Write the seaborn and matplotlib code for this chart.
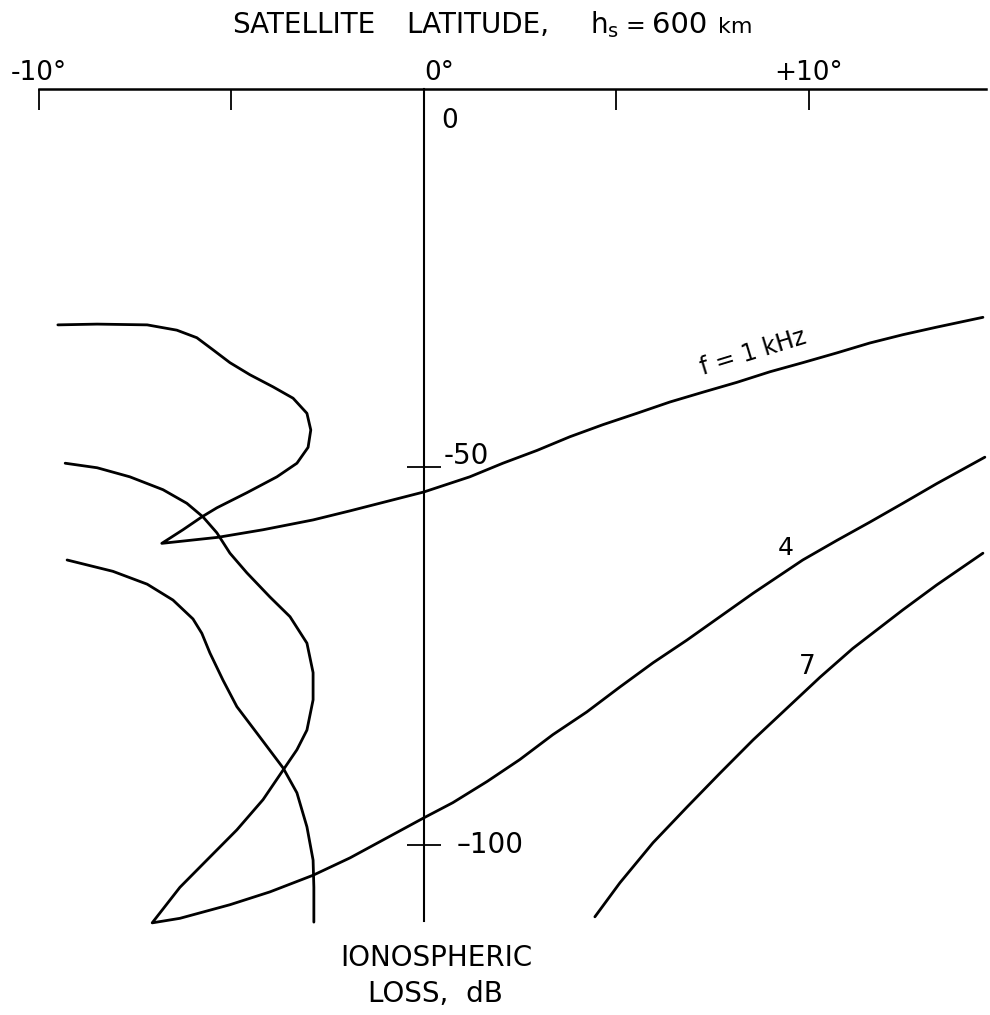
import matplotlib
matplotlib.use("Agg")
import matplotlib.pyplot as plt
import seaborn as sns
import pandas as pd

# Satellite latitude (deg) and ionospheric loss (dB) along each frequency curve
lat_1k = [-9.51, -8.49, -7.19, -6.42, -5.90, -5.48, -5.04, -4.52, -3.92, -3.40, -3.04, -2.94,
          -3.01, -3.30, -3.82, -4.60, -5.38, -5.77, -6.26, -6.81, -6.08, -5.35, -4.18, -2.88,
          -1.92, 0.0, 1.19, 2.05, 2.94, 3.79, 4.65, 5.53, 6.39, 7.25, 8.13, 8.99, 9.84,
          10.73, 11.58, 12.44, 13.32, 14.52]
loss_1k = [-31.2, -31.1, -31.2, -31.9, -32.9, -34.5, -36.2, -37.8, -39.4, -40.9, -42.9, -45.1,
           -47.4, -49.5, -51.3, -53.4, -55.4, -56.6, -58.3, -60.1, -59.7, -59.3, -58.3, -57.0,
           -55.8, -53.3, -51.3, -49.5, -47.8, -46.0, -44.4, -42.9, -41.4, -40.1, -38.8, -37.4, -36.2,
           -34.9, -33.6, -32.5, -31.5, -30.2]

lat_4k = [-9.32, -8.49, -7.64, -6.78, -6.16, -5.74, -5.38, -5.04, -4.60, -4.00, -3.48, -3.04,
          -2.88, -2.88, -3.04, -3.30, -3.66, -4.18, -4.86, -5.64, -6.34, -7.06, -6.34, -5.04,
          -4.00, -2.88, -1.92, 0.0, 0.75, 1.64, 2.49, 3.35, 4.23, 5.09, 5.95, 6.83, 7.69,
          8.55, 9.84, 10.73, 11.58, 12.44, 13.32, 14.57]
loss_4k = [-49.5, -50.1, -51.3, -53.0, -54.8, -56.6, -58.7, -61.4, -64.0, -67.2, -69.8, -73.3,
           -77.2, -80.8, -84.8, -87.4, -90.1, -94.0, -98.0, -102.0, -105.6, -110.3, -109.7, -107.9,
           -106.2, -104.0, -101.7, -96.4, -94.4, -91.6, -88.7, -85.4, -82.4, -79.1, -75.9, -72.9, -69.8,
           -66.7, -62.3, -59.7, -57.3, -54.8, -52.2, -48.7]

# the 7 kHz curve appears as two separate branches
lat_7k_west = [-9.27, -8.08, -7.19, -6.52, -6.00, -5.77, -5.56, -5.22, -4.86, -4.34, -3.66, -3.30,
               -3.04, -2.88, -2.86, -2.86]
loss_7k_west = [-62.3, -63.8, -65.5, -67.6, -70.1, -72.0, -74.6, -78.2, -81.7, -85.2, -89.8, -93.1,
                -97.6, -102.0, -105.6, -110.2]
lat_7k_east = [4.44, 5.09, 5.95, 6.83, 7.69, 8.55, 9.43, 10.29, 11.14, 12.44, 13.32, 14.52]
loss_7k_east = [-109.5, -105.0, -99.7, -95.0, -90.5, -86.1, -81.9, -77.8, -74.0, -68.9, -65.6, -61.4]

lat_ticks = [-10, -5, 0, 5, 10]
lat_tick_labels = ["-10°", "", "0°", "", "+10°"]
loss_ticks = [-50, -100]
loss_tick_labels = ["-50", "–100"]

curve_labels = ["f = 1 kHz", "4", "7"]

sns.set_theme(style="white")
plt.rcParams["font.family"] = ["DejaVu Sans"]
plt.rcParams["text.color"] = "black"
plt.rcParams["xtick.color"] = "black"
plt.rcParams["ytick.color"] = "black"
plt.rcParams["xtick.labelcolor"] = "black"

fig = plt.figure(figsize=(9.9, 10.15), dpi=100)
W, H = 990, 1015
x0, x1, y0, y1 = 39, 986, 89, 920.6
ax = fig.add_axes([x0 / W, 1 - y1 / H, (x1 - x0) / W, (y1 - y0) / H])
ax.set_xlim(-10, 14.6)
ax.set_ylim(-110, 0)
ax.set_facecolor("white")

segments = [(lat_1k, loss_1k), (lat_4k, loss_4k),
            (lat_7k_west, loss_7k_west), (lat_7k_east, loss_7k_east)]
for lat, loss in segments:
    df = pd.DataFrame({"lat": lat, "loss": loss})
    sns.lineplot(data=df, x="lat", y="loss", sort=False, estimator=None,
                 color="black", lw=2.0, ax=ax, clip_on=False,
                 solid_joinstyle="round", solid_capstyle="round")

# axes: latitude scale along the top, loss scale down the 0° meridian
for side in ("bottom", "right"):
    ax.spines[side].set_visible(False)
ax.spines["top"].set_linewidth(1.8)
ax.spines["top"].set_color("black")
ax.spines["left"].set_position(("data", 0))
ax.spines["left"].set_linewidth(1.5)
ax.spines["left"].set_color("black")

ax.xaxis.set_ticks_position("top")
ax.set_xticks(lat_ticks)
ax.set_xticklabels(lat_tick_labels)
ax.tick_params(axis="x", direction="in", length=15, width=1.3, color="black",
               labelsize=19, pad=2, top=True, bottom=False)
ax.xaxis.get_major_ticks()[2].label2.set_horizontalalignment("left")

ax.set_yticks(loss_ticks)
ax.tick_params(axis="y", direction="inout", length=24, width=1.3, color="black",
               labelleft=False, left=True)
ax.set_xlabel("")
ax.set_ylabel("")
ax.grid(False)

ax.text(0.45, -4.2, "0", fontsize=19, ha="left", va="center")
ax.text(0.5, -48.5, loss_tick_labels[0], fontsize=20, ha="left", va="center")
ax.text(0.85, -100, loss_tick_labels[1], fontsize=20, ha="left", va="center")

ax.text(8.55, -34.8, curve_labels[0], fontsize=17, rotation=17, ha="center", va="center")
ax.text(9.4, -60.7, curve_labels[1], fontsize=18, ha="center", va="center")
ax.text(9.95, -76.5, curve_labels[2], fontsize=19, ha="center", va="center")

ax.text(0.31, -114.9, "IONOSPHERIC", fontsize=20, ha="center", va="center", clip_on=False)
ax.text(0.31, -119.7, "LOSS,  dB", fontsize=20, ha="center", va="center", clip_on=False)

# title set word by word along a common baseline
base = 1 - 33 / H
title_parts = [(232, "SATELLITE", 20), (406, "LATITUDE,", 20),
               (590, r"h$_\mathregular{s}$", 20), (626, "=", 17),
               (652, "600", 21), (718, "km", 16)]
for px, txt, size in title_parts:
    fig.text(px / W, base, txt, fontsize=size, ha="left", va="baseline")

fig.savefig("out.png", dpi=100, facecolor="white")
